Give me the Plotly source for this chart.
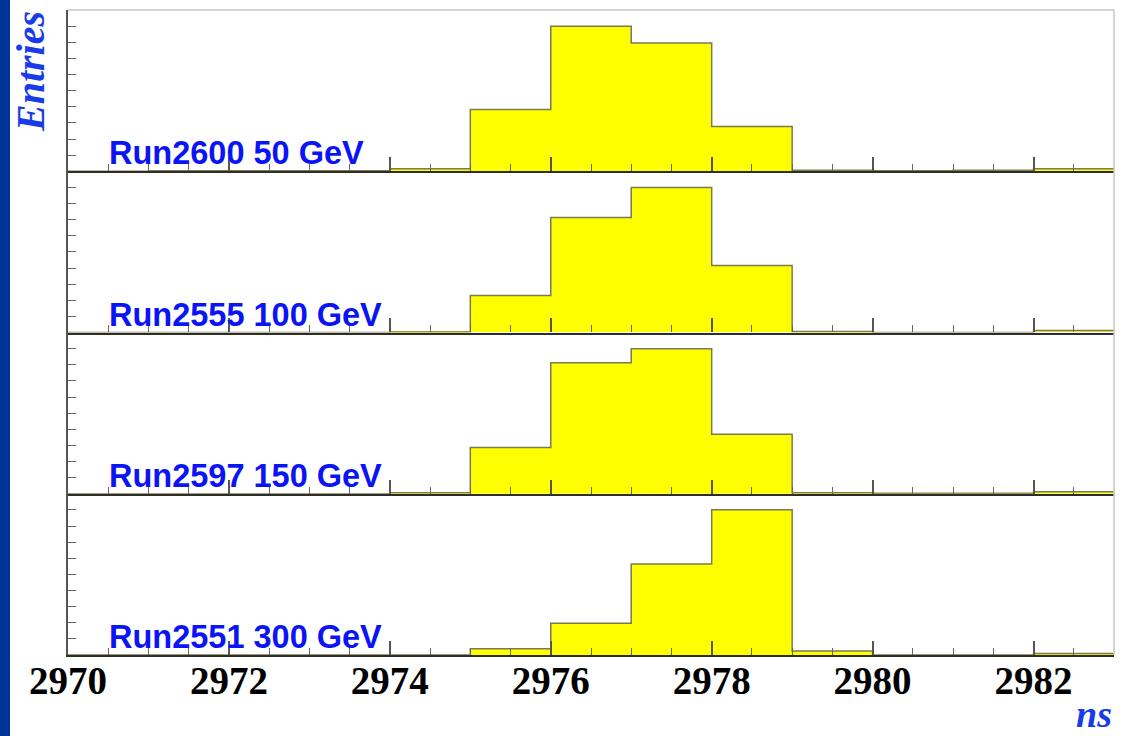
import plotly.graph_objects as go
from plotly.subplots import make_subplots

# Timing histograms, 1 ns bins from 2970 to 2983 ns
bin_edges = list(range(2970, 2984))
run_labels = ["Run2600 50 GeV", "Run2555 100 GeV", "Run2597 150 GeV", "Run2551 300 GeV"]

entries_run2600 = [0, 0.4, 0.4, 0.4, 2.5, 62, 146, 129, 45, 1, 0.4, 1, 2.5]
entries_run2555 = [0, 0, 0, 0, 0.5, 37, 115, 145, 67, 1, 0, 0, 2]
entries_run2597 = [0, 0, 0, 0, 1, 46, 130, 144, 59, 1, 0.5, 0.5, 2]
entries_run2551 = [0, 0, 0, 0, 0, 6, 31, 89, 142, 4, 0, 0, 1.5]

series = [entries_run2600, entries_run2555, entries_run2597, entries_run2551]

FILL = "#ffff00"
OUTLINE = "#7a7a55"
LABEL_BLUE = "#0a14f5"
TITLE_BLUE = "#1a3ce8"

W, H = 1124, 736
ML, MR, MT, MB = 68, 10, 10, 81
PW, PH = W - ML - MR, H - MT - MB

fig = make_subplots(rows=4, cols=1, shared_xaxes=True, vertical_spacing=0)

centers = [(bin_edges[i] + bin_edges[i + 1]) / 2 for i in range(len(bin_edges) - 1)]

for row, vals in enumerate(series, start=1):
    fig.add_trace(
        go.Bar(x=centers, y=vals, width=1, marker=dict(color=FILL, line=dict(width=0)),
               hoverinfo="skip", showlegend=False),
        row=row, col=1,
    )
    # step outline of the histogram
    fig.add_trace(
        go.Scatter(x=bin_edges, y=vals + [vals[-1]], mode="lines", line_shape="hv",
                   line=dict(color=OUTLINE, width=1.5), hoverinfo="skip", showlegend=False),
        row=row, col=1,
    )
    top = max(vals) / 0.9
    fig.update_yaxes(
        range=[0, top], tick0=0, dtick=top / 10, ticks="inside", ticklen=8,
        tickcolor="#666666", tickwidth=1, showticklabels=False,
        showline=True, linecolor="#555555", linewidth=1.5,
        showgrid=False, zeroline=False, fixedrange=True,
        row=row, col=1,
    )
    fig.update_xaxes(
        range=[2970, 2983], tick0=2970, dtick=2, ticks="inside", ticklen=14,
        tickcolor="#555555", tickwidth=1.5,
        minor=dict(dtick=0.5, tick0=2970, ticks="inside", ticklen=7,
                   tickcolor="#666666", tickwidth=1, showgrid=False),
        showline=True, linecolor="#2e2e26", linewidth=2.2,
        showgrid=False, zeroline=False, fixedrange=True,
        showticklabels=(row == 4),
        tickfont=dict(family="Liberation Serif", size=39, color="black", weight="bold"),
        ticklabelstandoff=-10,
        row=row, col=1,
    )
    fig.add_annotation(
        text=run_labels[row - 1], xref=f"x{'' if row == 1 else row}", yref=f"y{'' if row == 1 else row} domain",
        x=2970.48, y=0, xanchor="left", yanchor="bottom", yshift=-2, showarrow=False,
        font=dict(family="Liberation Sans", size=32.5, color=LABEL_BLUE, weight="bold"),
    )

# left blue strip
fig.add_shape(type="rect", xref="paper", yref="paper",
              x0=-ML / PW, x1=(10 - ML) / PW, y0=-MB / PH, y1=1 + MT / PH,
              fillcolor="#003399", line=dict(width=0), layer="above")
# light frame on the top and right
fig.add_shape(type="line", xref="paper", yref="paper", x0=0, x1=1, y0=1, y1=1,
              line=dict(color="#c4c4c4", width=1.5))
fig.add_shape(type="line", xref="paper", yref="paper", x0=1, x1=1, y0=0, y1=1,
              line=dict(color="#c4c4c4", width=1.5))

fig.add_annotation(
    text="<b><i>Entries</i></b>", xref="paper", yref="paper",
    x=(31 - ML) / PW, y=1 - (72 - MT) / PH, xanchor="center", yanchor="middle",
    textangle=-90, showarrow=False,
    font=dict(family="Liberation Serif", size=40, color=TITLE_BLUE),
)
fig.add_annotation(
    text="<b><i>ns</i></b>", xref="paper", yref="paper",
    x=(1114 - ML) / PW, y=-(714 - (MT + PH)) / PH, xanchor="right", yanchor="middle",
    showarrow=False,
    font=dict(family="Liberation Serif", size=38, color=TITLE_BLUE),
)

fig.update_layout(
    width=W, height=H,
    margin=dict(l=ML, r=MR, t=MT, b=MB),
    paper_bgcolor="white", plot_bgcolor="white",
    bargap=0, hovermode=False, showlegend=False,
)

fig.write_html("out.html", config={"displayModeBar": False})
